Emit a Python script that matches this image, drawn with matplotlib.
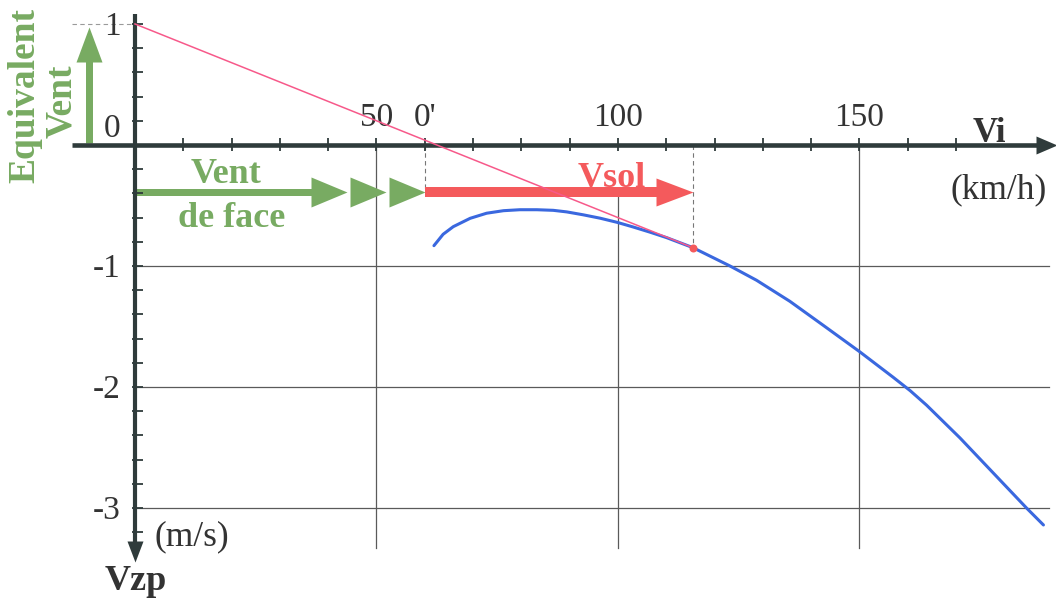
import numpy as np
import matplotlib
matplotlib.use("Agg")
import matplotlib.pyplot as plt
from matplotlib.path import Path

# ---------------- data ----------------
vi_curve = [61.9, 63.8, 65.9, 69.4, 72.8, 76.3, 79.7, 83.2, 86.6, 89.4, 92.8,
            96.3, 99.8, 103.1, 106.6, 110.1, 115.5, 123.2, 128.7, 135.6, 142.5,
            150.1, 157.0, 160.5, 163.9, 170.8, 177.7, 184.6, 188.1]
vz_curve = [-0.832, -0.738, -0.675, -0.606, -0.564, -0.543, -0.535, -0.535,
            -0.540, -0.553, -0.577, -0.605, -0.639, -0.677, -0.720, -0.766,
            -0.848, -1.0, -1.118, -1.292, -1.49, -1.71, -1.92, -2.03, -2.15,
            -2.42, -2.71, -3.0, -3.14]

wind_speed = 60          # head wind (km/h) -> new origin 0'
wind_equiv = 1.0         # equivalent wind (m/s) on Vz axis
tangent_vi = 115.5       # tangent point
tangent_vz = -0.848
wind_heads = [44, 52, 60]

x_tick_values = [50, 60, 100, 150]
x_tick_labels = ["50", "0'", "100", "150"]
x_minor = list(range(10, 180, 10))
y_tick_values = [1, 0, -1, -2, -3]
y_tick_labels = ["1", "0", "-1", "-2", "-3"]
y_minor = [round(v, 1) for v in np.arange(-3.2, 1.01, 0.2) if abs(v) > 1e-6]
grid_x = [50, 100, 150]
grid_y = [-1, -2, -3]

# ---------------- style ----------------
AX = "#2f3b3b"
GRID = "#5a5a5a"
TXT = "#333333"
GREEN = "#78ab62"
RED = "#f45a5c"
PINK = "#f7598a"
BLUE = "#3a68df"
SERIF = "Liberation Serif"

plt.rcParams["font.family"] = [SERIF, "DejaVu Serif"]

fig = plt.figure(figsize=(10.56, 6.0), dpi=100)
ax = fig.add_axes([0, 0, 1, 1])
ax.set_xlim(-27.95, 190.7)
ax.set_ylim(-3.760, 1.198)
ax.axis("off")


def head(L_px, H_px, direction):
    """Triangle marker with its tip at the data point (ms = 2*L)."""
    h = 2.0 * H_px / L_px
    if direction == "right":
        verts = [(0, 0), (-2, h), (-2, -h), (0, 0)]
    elif direction == "up":
        verts = [(0, 0), (h, -2), (-h, -2), (0, 0)]
    else:  # down
        verts = [(0, 0), (h, 2), (-h, 2), (0, 0)]
    return Path(verts, [Path.MOVETO, Path.LINETO, Path.LINETO, Path.CLOSEPOLY])


PX = 0.72  # points per pixel at 100 dpi


def draw_head(x, y, L, H, direction, color, z):
    ax.plot(x, y, ls="none", marker=head(L, H, direction), ms=2 * L * PX,
            color=color, mec="none", zorder=z)


# grid
for gx in grid_x:
    top = -0.36 if gx == 100 else 0
    ax.plot([gx, gx], [top, -3.33], color=GRID, lw=0.9, zorder=1)
for gy in grid_y:
    ax.plot([0, 189.3], [gy, gy], color=GRID, lw=0.9, zorder=1)

# dashed guides
ax.plot([wind_speed, wind_speed], [0, -0.39], color="#777777", lw=0.8,
        dashes=(4, 3), zorder=1)
ax.plot([tangent_vi, tangent_vi], [0, tangent_vz], color="#777777", lw=0.8,
        dashes=(4, 3), zorder=1)
ax.plot([-13, 0], [wind_equiv, wind_equiv], color="#9a9a9a", lw=0.8,
        dashes=(4, 3), zorder=1)

# axes
ax.plot([-13, 187], [0, 0], color=AX, lw=3.3, solid_capstyle="butt", zorder=4)
draw_head([190.9], [0], 21, 9, "right", AX, 4)
ax.plot([0, 0], [1.08, -3.33], color=AX, lw=3.0, solid_capstyle="butt", zorder=4)
draw_head([0], [-3.446], 21, 8, "down", AX, 4)

# ticks
ax.plot([0.5] * len(y_minor), y_minor, ls="none", marker="_", ms=11 * PX,
        mew=1.3, color=AX, zorder=4)
ax.plot(x_minor, [0.012] * len(x_minor), ls="none", marker="|", ms=13 * PX,
        mew=1.3, color=AX, zorder=4)

# tick labels
for v, lab in zip(x_tick_values, x_tick_labels):
    ax.text(v, 0.16, lab, ha="center", va="baseline", fontsize=24, color=TXT)
for v, lab in zip(y_tick_values, y_tick_labels):
    yb = 0.066 if v == 0 else v - 0.09
    ax.text(-3.0, yb, lab, ha="right", va="baseline", fontsize=24, color=TXT)

# axis titles
ax.text(177, 0.025, "Vi", ha="center", va="baseline", fontsize=25,
        fontweight="bold", color=TXT)
ax.text(178.9, -0.438, "(km/h)", ha="center", va="baseline", fontsize=25.5,
        color=TXT)
ax.text(11.8, -3.306, "(m/s)", ha="center", va="baseline", fontsize=25.5,
        color=TXT)
ax.text(0.2, -3.678, "Vzp", ha="center", va="baseline", fontsize=26,
        fontweight="bold", color=TXT)

# green equivalent-wind arrow (vertical)
ax.plot([-9.5, -9.5], [0.02, 0.75], color=GREEN, lw=7 * PX,
        solid_capstyle="butt", zorder=3)
draw_head([-9.5], [0.975], 35, 13, "up", GREEN, 3)
ax.text(-22.8, 0.405, "Equivalent", rotation=90, ha="center", va="center",
        fontsize=27, fontweight="bold", color=GREEN)
ax.text(-15.1, 0.364, "Vent", rotation=90, ha="center", va="center",
        fontsize=27, fontweight="bold", color=GREEN)

# green head-wind arrow (horizontal)
y_arrow = -0.39
ax.plot([0, wind_heads[0] - 5], [y_arrow, y_arrow], color=GREEN, lw=7 * PX,
        solid_capstyle="butt", zorder=3)
draw_head(wind_heads, [y_arrow] * len(wind_heads), 36, 15, "right", GREEN, 3)
ax.text(18.8, -0.314, "Vent", ha="center", va="baseline", fontsize=26,
        fontweight="bold", color=GREEN)
ax.text(20.1, -0.678, "de face", ha="center", va="baseline", fontsize=26,
        fontweight="bold", color=GREEN)

# red ground-speed arrow
ax.plot([wind_speed, tangent_vi - 6], [y_arrow, y_arrow], color=RED,
        lw=10 * PX, solid_capstyle="butt", zorder=3)
draw_head([tangent_vi], [y_arrow], 37, 14, "right", RED, 3)
ax.text(98.8, -0.347, "Vsol", ha="center", va="baseline", fontsize=26,
        fontweight="bold", color=RED)

# polar curve
ax.plot(vi_curve, vz_curve, color=BLUE, lw=2.2, zorder=5,
        solid_capstyle="round", solid_joinstyle="round")

# tangent line
ax.plot([0, tangent_vi], [wind_equiv, tangent_vz], color=PINK, lw=1.1, zorder=6)
ax.plot([tangent_vi], [tangent_vz], marker="o", ms=8 * PX, color=RED,
        mec="none", zorder=7)

fig.savefig("out.png", dpi=100)
